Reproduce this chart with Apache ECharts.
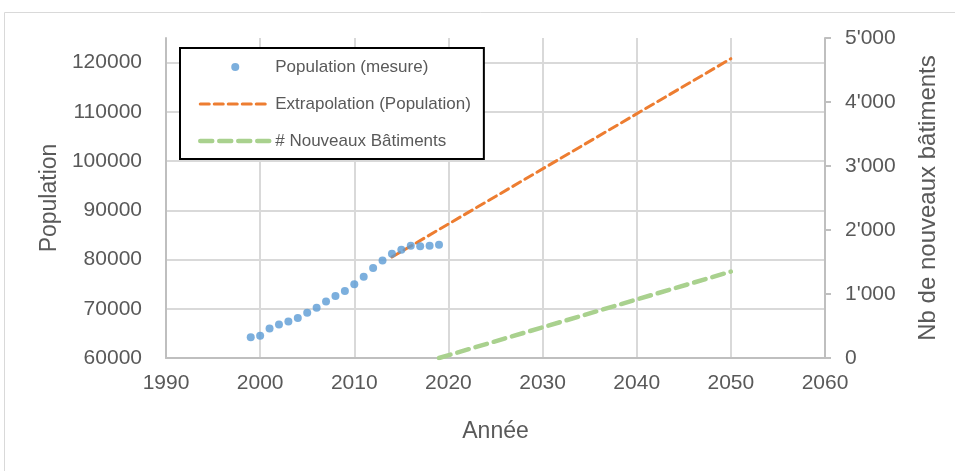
<!DOCTYPE html>
<html>
<head>
<meta charset="utf-8">
<script src="https://cdn.jsdelivr.net/npm/echarts@6/dist/echarts.min.js"></script>
<style>
  html, body { margin: 0; padding: 0; background: #fff; }
  #chart { width: 955px; height: 471px; }
</style>
</head>
<body>
<div id="chart"></div>
<script>
// Measured population, one value per year
const measureYears = [1999, 2000, 2001, 2002, 2003, 2004, 2005, 2006, 2007, 2008, 2009,
                      2010, 2011, 2012, 2013, 2014, 2015, 2016, 2017, 2018, 2019];
const measurePopulation = [64200, 64500, 66000, 66800, 67400, 68100, 69200, 70200, 71500, 72600, 73600,
                           75000, 76500, 78300, 79800, 81200, 82000, 82800, 82700, 82800, 83000];

// Linear extrapolation of the population (end points)
const extrapYears = [2014, 2050];
const extrapPopulation = [80500, 120800];

// Cumulative number of new buildings (right axis)
const buildingYears = [2019, 2050];
const buildingCount = [0, 1350];

const seriesNames = ['Population (mesure)', 'Extrapolation (Population)', '# Nouveaux Bâtiments'];

const pairs = (xs, ys) => xs.map((x, i) => [x, ys[i]]);

const FONT = '"Liberation Sans", Arial, sans-serif';
const TEXT = '#595959';
const GRID = '#D9D9D9';
const AXIS = '#BFBFBF';

// Swiss-style thousands separator: 1000 -> 1'000
const swiss = v => String(v).replace(/\B(?=(\d{3})+(?!\d))/g, "'");

const chart = echarts.init(document.getElementById('chart'), null, { renderer: 'canvas' });

chart.setOption({
  animation: false,
  backgroundColor: '#ffffff',
  textStyle: { fontFamily: FONT },
  graphic: [{
    type: 'rect',
    shape: { x: 4.5, y: 12.5, width: 1200, height: 1200 },
    style: { fill: 'none', stroke: GRID, lineWidth: 1 },
    silent: true,
    z: -10
  }],
  grid: { left: 166, right: 130, top: 38, bottom: 113, containLabel: false },
  legend: {
    left: 180,
    top: 48,
    orient: 'vertical',
    data: [
      { name: seriesNames[0] },
      { name: seriesNames[1], itemStyle: { opacity: 0 } },
      { name: seriesNames[2], itemStyle: { opacity: 0 } }
    ],
    itemWidth: 70,
    itemHeight: 8,
    itemGap: 17,
    padding: [9, 13, 8, 18],
    backgroundColor: '#ffffff',
    borderColor: '#000000',
    borderWidth: 2,
    borderRadius: 0,
    lineStyle: { width: 'inherit', type: 'inherit', cap: 'inherit' },
    textStyle: { color: TEXT, fontSize: 17, lineHeight: 20, fontFamily: FONT },
    z: 10
  },
  xAxis: {
    type: 'value',
    min: 1990,
    max: 2060,
    interval: 10,
    name: 'Année',
    nameLocation: 'middle',
    nameGap: 62,
    nameTextStyle: { color: TEXT, fontSize: 23, fontFamily: FONT },
    axisLine: { show: true, onZero: false, lineStyle: { color: AXIS, width: 2 } },
    axisTick: { show: false },
    axisLabel: { color: TEXT, fontSize: 21, margin: 15, fontFamily: FONT, formatter: v => String(v) },
    splitLine: { show: true, lineStyle: { color: GRID, width: 2 } }
  },
  yAxis: [{
    type: 'value',
    position: 'left',
    min: 60000,
    max: 125000,
    interval: 10000,
    alignTicks: false,
    name: 'Population',
    nameLocation: 'middle',
    nameGap: 100,
    nameRotate: 90,
    nameTextStyle: { color: TEXT, fontSize: 23, fontFamily: FONT },
    axisLine: { show: true, lineStyle: { color: AXIS, width: 2 } },
    axisTick: { show: false },
    axisLabel: { color: TEXT, fontSize: 21, margin: 24, showMaxLabel: false, fontFamily: FONT, formatter: v => String(v) },
    splitLine: { show: true, showMaxLine: false, lineStyle: { color: GRID, width: 2 } }
  }, {
    type: 'value',
    position: 'right',
    min: 0,
    max: 5000,
    interval: 1000,
    alignTicks: false,
    name: 'Nb de nouveaux bâtiments',
    nameLocation: 'middle',
    nameGap: 91,
    nameRotate: 90,
    nameTextStyle: { color: TEXT, fontSize: 24, fontFamily: FONT },
    axisLine: { show: true, lineStyle: { color: AXIS, width: 2 } },
    axisTick: { show: true, inside: false, length: 6, lineStyle: { color: AXIS, width: 2 } },
    axisLabel: { color: TEXT, fontSize: 21, margin: 20, fontFamily: FONT, formatter: swiss },
    splitLine: { show: false }
  }],
  series: [{
    name: seriesNames[1],
    type: 'line',
    yAxisIndex: 0,
    data: pairs(extrapYears, extrapPopulation),
    symbol: 'none',
    color: '#ED7D31',
    lineStyle: { color: '#ED7D31', width: 3, type: [9, 5], cap: 'round' },
    z: 3
  }, {
    name: seriesNames[2],
    type: 'line',
    yAxisIndex: 1,
    data: pairs(buildingYears, buildingCount),
    symbol: 'none',
    color: '#A9D18E',
    lineStyle: { color: '#A9D18E', width: 4.5, type: [12, 7], cap: 'round' },
    z: 2
  }, {
    name: seriesNames[0],
    type: 'scatter',
    yAxisIndex: 0,
    data: pairs(measureYears, measurePopulation),
    symbol: 'circle',
    symbolSize: 8,
    itemStyle: { color: '#5B9BD5' },
    z: 4
  }]
});
</script>
</body>
</html>
